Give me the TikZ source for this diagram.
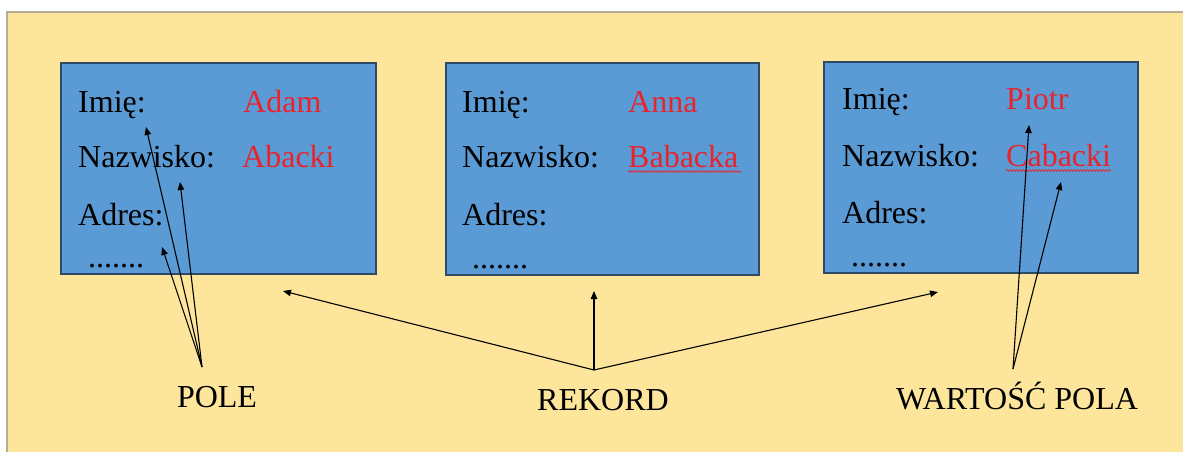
\documentclass[tikz,border=0pt]{standalone}
\usepackage{fontspec}
\setmainfont{Liberation Serif}
\usetikzlibrary{arrows.meta,decorations.pathmorphing}
\definecolor{panel}{HTML}{FDE69B}
\definecolor{paneledge}{HTML}{B4AC94}
\definecolor{boxfill}{HTML}{5B9BD5}
\definecolor{boxedge}{HTML}{2E4A66}
\definecolor{valred}{HTML}{E8232B}
\tikzset{
  recbox/.style={draw=boxedge,fill=boxfill,line width=1.3pt},
  field/.style={anchor=base west,inner sep=0pt,font=\fontsize{32}{38}\selectfont,text=black},
  value/.style={field,text=valred},
  caption/.style={anchor=base,inner sep=0pt,font=\fontsize{32}{38}\selectfont},
  pointer/.style={draw=black,line width=1.1pt,-{Triangle[length=8pt,width=6.5pt]}},
  spell/.style={draw=valred,line width=0.7pt,decorate,decoration={snake,amplitude=0.9pt,segment length=3.2pt}}
}
\begin{document}
\begin{tikzpicture}[x=1pt,y=-1pt]
\useasboundingbox (0,0) rectangle (1183,452);
\fill[white] (0,0) rectangle (1183,452);
% slide background
\fill[panel] (7,12) rectangle (1183,452);
\draw[paneledge,line width=1.5pt] (7,452) -- (7,12) -- (1183,12);

% record boxes
\draw[recbox] (61,63) rectangle (376,274);
\draw[recbox] (446,63) rectangle (759,275);
\draw[recbox] (824,62) rectangle (1138,273);

% first record
\node[field] (a1) at (78,112) {Imię:};
\node[field] (a2) at (78,167) {Nazwisko:};
\node[field] (a3) at (78,225) {Adres:};
\node[field] (a4) at (88,267) {.......};
\node[value] (av1) at (243,112) {Adam};
\node[value] (av2) at (242,167) {Abacki};

% second record
\node[field] (b1) at (462,112) {Imię:};
\node[field] (b2) at (462,167) {Nazwisko:};
\node[field] (b3) at (462,225) {Adres:};
\node[field] (b4) at (472,268) {.......};
\node[value] (bv1) at (628,112) {Anna};
\node[value] (bv2) at (628,167) {Babacka};
\draw[spell] (628,171.5) -- (741,171.5);

% third record
\node[field] (c1) at (842,110) {Imię:};
\node[field] (c2) at (842,166) {Nazwisko:};
\node[field] (c3) at (842,223) {Adres:};
\node[field] (c4) at (851,266) {.......};
\node[value] (cv1) at (1006,110) {Piotr};
\node[value] (cv2) at (1006,166) {Cabacki};
\draw[spell] (1006,170.5) -- (1111,170.5);

% captions
\node[caption] (pole) at (217,407) {POLE};
\node[caption] (rekord) at (603,410) {REKORD};
\node[caption] (wartosc) at (1017,409) {WARTOŚĆ POLA};

% arrow origins and targets
\coordinate (poleTop) at (202,367);
\coordinate (rekTop) at (594,370);
\coordinate (warTop) at (1013,369);
\coordinate (tImie) at (146,127);
\coordinate (tNazw) at (180,182);
\coordinate (tAdres) at (162,247);
\coordinate (tRecL) at (283,291);
\coordinate (tRecM) at (594,291);
\coordinate (tRecR) at (938,292);
\coordinate (tPiotr) at (1029,125);
\coordinate (tCab) at (1061,182);

\draw[pointer] (poleTop) -- (tImie);
\draw[pointer] (poleTop) -- (tNazw);
\draw[pointer] (poleTop) -- (tAdres);
\draw[pointer] (rekTop) -- (tRecL);
\draw[pointer] (rekTop) -- (tRecM);
\draw[pointer] (rekTop) -- (tRecR);
\draw[pointer] (warTop) -- (tPiotr);
\draw[pointer] (warTop) -- (tCab);
\end{tikzpicture}
\end{document}
